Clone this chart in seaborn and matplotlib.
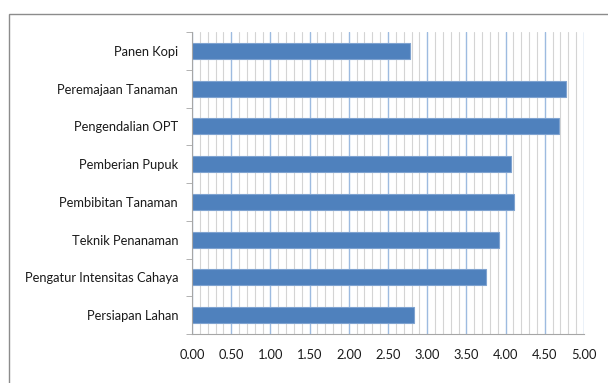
import matplotlib
matplotlib.use("Agg")
import matplotlib.pyplot as plt
import seaborn as sns
import pandas as pd
import numpy as np
from matplotlib.ticker import MultipleLocator, FormatStrFormatter
from matplotlib.patches import Rectangle

categories = ["Panen Kopi", "Peremajaan Tanaman", "Pengendalian OPT", "Pemberian Pupuk",
              "Pembibitan Tanaman", "Teknik Penanaman", "Pengatur Intensitas Cahaya", "Persiapan Lahan"]
values = [2.78, 4.77, 4.68, 4.07, 4.11, 3.92, 3.75, 2.83]
x_ticks = [0.0, 0.5, 1.0, 1.5, 2.0, 2.5, 3.0, 3.5, 4.0, 4.5, 5.0]

sns.set_style("white")
plt.rcParams['font.family'] = ['Lato', 'DejaVu Sans']

df = pd.DataFrame({"cat": categories, "val": values})

fig = plt.figure(figsize=(6.08, 3.83), dpi=100)
ax = fig.add_axes([192/608, 1-334/383, (584-192)/608, (334-32)/383])

# frame around chart
fig.patches.append(Rectangle((9/608, -0.1), 1.1, 1-14/383+0.1, transform=fig.transFigure,
                             fill=False, edgecolor="#8c8c8c", linewidth=1.0))

sns.barplot(data=df, x="val", y="cat", ax=ax, color="#4F81BD", width=0.43,
            edgecolor="#7fa3d0", linewidth=0.8, saturation=1)

ax.set_xlim(0, 5)
ax.set_xticks(x_ticks)
ax.xaxis.set_major_formatter(FormatStrFormatter("%.2f"))
ax.xaxis.set_minor_locator(MultipleLocator(0.1))
ax.grid(which="major", axis="x", color="#9dbbe0", linewidth=1.0)
ax.grid(which="minor", axis="x", color="#d4d4d4", linewidth=0.8)
ax.grid(False, axis="y")
ax.set_axisbelow(True)
ax.set_xlabel("")
ax.set_ylabel("")

for s in ["top", "right"]:
    ax.spines[s].set_visible(False)
ax.spines["left"].set_color("#a6a6a6")
ax.spines["bottom"].set_color("#a6a6a6")

ax.set_ylim(len(categories) - 0.5, -0.5)
ax.set_yticks(np.arange(len(categories)))
ax.set_yticklabels(categories)
ax.set_yticks(np.arange(len(categories) + 1) - 0.5, minor=True)
ax.tick_params(axis="y", which="major", length=0, pad=10, labelsize=9.3, labelcolor="#1a1a1a")
ax.tick_params(axis="y", which="minor", length=4, color="#a6a6a6", direction="out", left=True)
ax.tick_params(axis="x", which="major", length=0, pad=11, labelsize=9.3, labelcolor="#1a1a1a")
ax.tick_params(axis="x", which="minor", length=0)

fig.savefig("out.png", dpi=100)
